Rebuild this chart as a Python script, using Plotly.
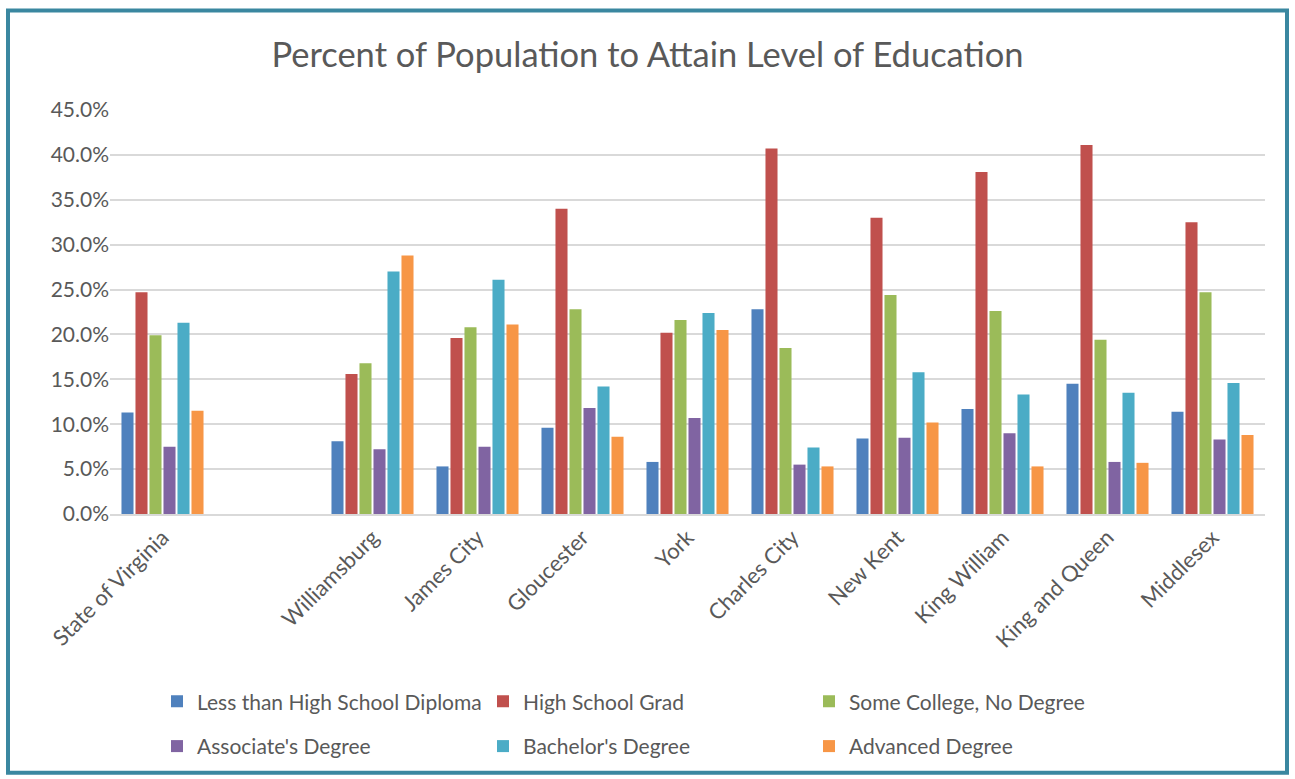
import plotly.graph_objects as go

categories = ["State of Virginia", " ", "Williamsburg", "James City", "Gloucester", "York",
              "Charles City", "New Kent", "King William", "King and Queen", "Middlesex"]

less_than_hs = [11.3, None, 8.1, 5.3, 9.6, 5.8, 22.8, 8.4, 11.7, 14.5, 11.4]
hs_grad      = [24.7, None, 15.6, 19.6, 34.0, 20.2, 40.7, 33.0, 38.1, 41.1, 32.5]
some_college = [19.9, None, 16.8, 20.8, 22.8, 21.6, 18.5, 24.4, 22.6, 19.4, 24.7]
associates   = [7.5, None, 7.2, 7.5, 11.8, 10.7, 5.5, 8.5, 9.0, 5.8, 8.3]
bachelors    = [21.3, None, 27.0, 26.1, 14.2, 22.4, 7.4, 15.8, 13.3, 13.5, 14.6]
advanced     = [11.5, None, 28.8, 21.1, 8.6, 20.5, 5.3, 10.2, 5.3, 5.7, 8.8]

series_names = ["Less than High School Diploma", "High School Grad", "Some College, No Degree",
                "Associate's Degree", "Bachelor's Degree", "Advanced Degree"]
series_values = [less_than_hs, hs_grad, some_college, associates, bachelors, advanced]
colors = ["#4F81BD", "#C0504D", "#9BBB59", "#8064A2", "#4BACC6", "#F79646"]
legends = ["legend", "legend", "legend", "legend2", "legend2", "legend2"]

W, H = 1295, 779
L, R, T, B = 110, 30, 110, 263
pw, ph = W - L - R, H - T - B

fig = go.Figure()
for name, vals, col, lg in zip(series_names, series_values, colors, legends):
    fig.add_trace(go.Bar(x=categories, y=vals, name=name, marker_color=col,
                         marker_line_width=0, legend=lg))

font = "Lato"
txt = "#595959"

def px2x(px):
    return (px - L) / pw

def px2y(py):
    return (H - B - py) / ph

fs = 21

legend_common = dict(orientation="h", xanchor="left", yanchor="top",
                     entrywidth=281, entrywidthmode="pixels",
                     font=dict(size=21, color=txt), itemwidth=30,
                     bgcolor="rgba(0,0,0,0)")

fig.update_layout(
    width=W, height=H,
    margin=dict(l=L, r=R, t=T, b=B),
    paper_bgcolor="white", plot_bgcolor="white",
    barmode="group", bargap=0.2, bargroupgap=0.14,
    font=dict(family=font, color=txt, size=fs),
    title=dict(text="Percent of Population to Attain Level of Education",
               x=0.5, xanchor="center", y=1 - 55 / H, yanchor="middle",
               font=dict(family=font, size=34.5, color=txt)),
    xaxis=dict(showgrid=False, ticks="", tickangle=-45, showline=True,
               linecolor="#D9D9D9", linewidth=2, tickfont=dict(size=22, color=txt)),
    yaxis=dict(range=[0, 45], dtick=5, tickformat=".1f", ticksuffix="%",
               gridcolor="#D9D9D9", gridwidth=2, zeroline=False, ticks="",
               tickfont=dict(size=fs, color=txt), automargin=False),
    legend=dict(x=px2x(157), y=px2y(684), **legend_common),
    legend2=dict(x=px2x(157), y=px2y(729), **legend_common),
    shapes=[dict(type="rect", xref="paper", yref="paper",
                 x0=px2x(8), x1=px2x(1287), y0=px2y(776), y1=px2y(10),
                 line=dict(color="#3A87A0", width=4), fillcolor="rgba(0,0,0,0)",
                 layer="above")],
    showlegend=True,
)

fig.write_html("out.html", config={"displayModeBar": False},
               post_script="document.body.style.margin='0';")
